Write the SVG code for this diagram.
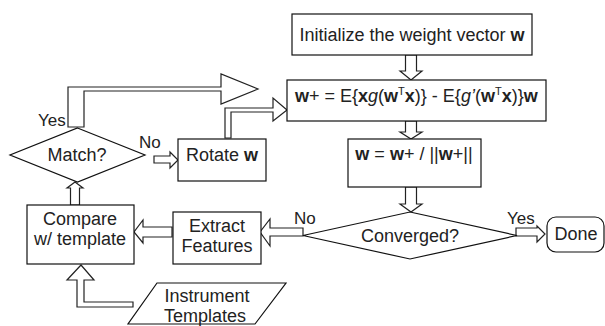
<svg xmlns="http://www.w3.org/2000/svg" width="605" height="326" viewBox="0 0 605 326">
<style>
.shape{fill:#fff;stroke:#111;stroke-width:1.2}
.arrow{fill:#fff;stroke:#222;stroke-width:1.2;stroke-linejoin:miter}
text{font-family:"Liberation Sans",Arial,sans-serif;font-size:18px;fill:#222}
.c{text-anchor:middle}
.b{font-weight:bold}
.i{font-style:italic}
.lbl{font-size:17px}
</style>
<rect width="605" height="326" fill="#fff"/>
<g id="connectors">
<polygon class="arrow" points="405.5,55 416.5,55 416.5,71 422,71 411,80 400,71 405.5,71"/>
<polygon class="arrow" points="405.5,121 416.5,121 416.5,132 422,132 411,139 400,132 405.5,132"/>
<polygon class="arrow" points="405.5,187 416.5,187 416.5,204 422,204 411,212 400,204 405.5,204"/>
<polygon class="arrow" points="516,228 537,228 537,226 545,234 537,242 537,236 516,236"/>
<polygon class="arrow" points="303,228 270,228 270,219 260,232 270,246 270,236 303,236"/>
<polygon class="arrow" points="172,227 143,227 143,220 134,232 143,243 143,237 172,237"/>
<polygon class="arrow" points="154,156 170,156 170,152 178,160 170,168 170,163 154,163"/>
<polygon class="arrow" points="70.5,205 70.5,188 67,188 75,182 83,188 79.5,188 79.5,205"/>
<polygon class="arrow" points="68,127 68,87 221,87 221,74 258,89 221,104 221,91 84,91 84,127"/>
<polygon class="arrow" points="225,138 225,108 273,108 273,98 287,110 273,121 273,112 231,112 231,138"/>
<polygon class="arrow" points="133,307 77,307 77,280 67,280 81,265 94,280 84,280 84,302 133,302"/>
<text class="lbl" x="38" y="126">Yes</text>
<text class="lbl" x="139" y="148">No</text>
<text class="lbl" x="294" y="224">No</text>
<text class="lbl" x="507" y="224">Yes</text>
</g>
<g id="init">
<rect class="shape" x="292" y="14" width="240" height="41"/>
<text class="c" x="412" y="41">Initialize the weight vector <tspan class="b">w</tspan></text>
</g>
<g id="update">
<rect class="shape" x="287" y="80" width="259" height="41"/>
<text x="295" y="102"><tspan class="b">w</tspan>+ = E{<tspan class="b">x</tspan><tspan class="i">g</tspan>(<tspan class="b">w</tspan><tspan font-size="11" dy="-7">T</tspan><tspan class="b" dy="7">x</tspan>)} - E{<tspan class="i">g’</tspan>(<tspan class="b">w</tspan><tspan font-size="11" dy="-7">T</tspan><tspan class="b" dy="7">x</tspan>)}<tspan class="b">w</tspan></text>
</g>
<g id="normalize">
<rect class="shape" x="348" y="139" width="133" height="48"/>
<text class="c" x="414" y="160"><tspan class="b">w</tspan> = <tspan class="b">w</tspan>+ / ||<tspan class="b">w</tspan>+||</text>
</g>
<g id="converged">
<polygon class="shape" points="410,212 517,235.5 410,259 303,235.5"/>
<text class="c" x="410" y="242">Converged?</text>
</g>
<g id="done">
<rect class="shape" x="547" y="217" width="57" height="35" rx="9"/>
<text class="c" x="576" y="240">Done</text>
</g>
<g id="extract">
<rect class="shape" x="173" y="212" width="88" height="52"/>
<text class="c" x="217" y="232">Extract</text>
<text class="c" x="217" y="252">Features</text>
</g>
<g id="compare">
<rect class="shape" x="27" y="205" width="107" height="59"/>
<text class="c" x="80" y="225">Compare</text>
<text class="c" x="80" y="245">w/ template</text>
</g>
<g id="match">
<polygon class="shape" points="77.5,128 145,155 77.5,182 10,155"/>
<text class="c" x="77" y="161">Match?</text>
</g>
<g id="rotate">
<rect class="shape" x="178" y="139" width="88" height="42"/>
<text class="c" x="222" y="161">Rotate <tspan class="b">w</tspan></text>
</g>
<g id="templates">
<polygon class="shape" points="157,283 286,283 255,324 128,324"/>
<text class="c" x="207" y="302">Instrument</text>
<text class="c" x="205" y="322">Templates</text>
</g>
</svg>
